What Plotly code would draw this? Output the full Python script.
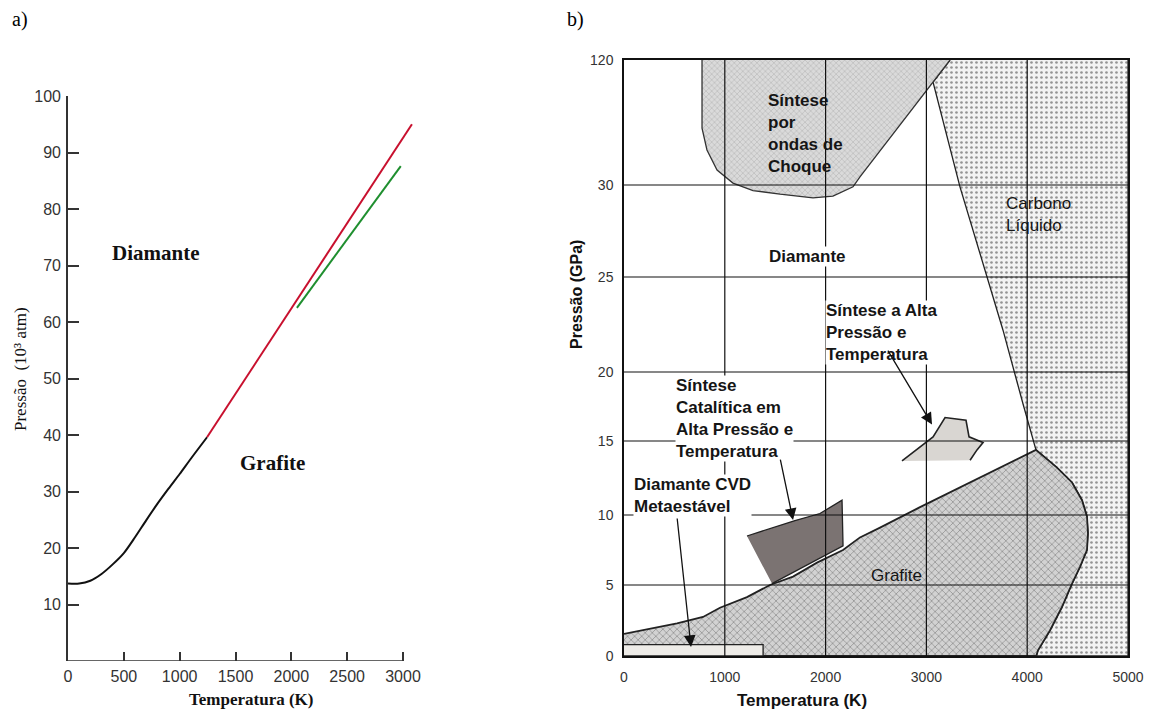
import numpy as np
import plotly.graph_objects as go

# the page is 1154x720 and the browser body keeps an 8 px margin around the figure
W, H = 1154, 720
OFF = 8
FW, FH = W - 2 * OFF, H - 2 * OFF

# ---------------- Panel a data (T in K, P in 10^3 atm) ----------------
A_BLACK_T = [0, 100, 200, 300, 400, 500, 600, 700, 800, 900, 1000, 1100, 1245]
A_BLACK_P = [13.7, 13.7, 14.2, 15.4, 17.1, 19.1, 21.9, 24.9, 27.8, 30.5, 33.1, 35.8, 39.6]
A_RED_T = [1245, 3080]
A_RED_P = [39.6, 95.0]
A_GREEN_T = [2050, 2980]
A_GREEN_P = [62.5, 87.6]
A_XTICKS = [0, 500, 1000, 1500, 2000, 2500, 3000]
A_YTICKS = [10, 20, 30, 40, 50, 60, 70, 80, 90, 100]
A_LABELS = ["Diamante", "Grafite"]
A_LABEL_T = [790, 1830]
A_LABEL_P = [72.2, 35.0]

# ---------------- Panel b data (T in K, P in GPa) ----------------
B_XTICKS = [0, 1000, 2000, 3000, 4000, 5000]
B_YTICKS = [0, 5, 10, 15, 20, 25, 30, 120]

SHOCK_T = [774, 774, 823, 923, 1081, 1280, 1548, 1875, 2073, 2272, 2341, 3234]
SHOCK_P = [120, 71.0, 55.2, 40.8, 31.4, 29.7, 29.5, 29.3, 29.4, 29.9, 35.8, 120]

LIQ_T = [3234, 3066, 3333, 3601, 3760, 3958, 4087, 4296, 4445, 4544, 4593, 4603, 4593,
         4524, 4445, 4345, 4226, 4107, 4090, 5000, 5000]
LIQ_P = [120, 104, 29.9, 25.0, 22.2, 17.7, 14.4, 13.2, 12.2, 11.0, 9.9, 8.7, 7.5,
         6.3, 5.1, 3.45, 1.8, 0.4, 0, 0, 120]

GRAF_T = [0, 526, 784, 952, 1220, 1448, 1677, 1915, 2173, 2341, 2540, 2927, 4087,
          4296, 4445, 4544, 4593, 4603, 4593, 4524, 4445, 4345, 4226, 4107, 4090, 0]
GRAF_P = [1.55, 2.3, 2.75, 3.4, 4.15, 5.0, 5.6, 6.6, 7.5, 8.4, 9.1, 10.5, 14.4,
          13.2, 12.2, 11.0, 9.9, 8.7, 7.5, 6.3, 5.1, 3.45, 1.8, 0.4, 0, 0]

CAT_T = [1220, 1696, 1944, 2163, 2173, 1468]
CAT_P = [8.5, 9.6, 10.1, 11.0, 7.8, 5.1]

HPHT_T = [2758, 3066, 3185, 3393, 3423, 3562, 3502, 3433]
HPHT_P = [13.65, 15.3, 16.7, 16.5, 15.3, 14.9, 14.4, 13.7]

CVD_T = [0, 1380, 1380, 0]
CVD_P = [0, 0, 0.8, 0.8]

B_LABELS = ["Síntese<br>por<br>ondas de<br>Choque", "Diamante", "Carbono<br>Líquido",
            "Síntese a Alta<br>Pressão e<br>Temperatura",
            "Síntese<br>Catalítica em<br>Alta Pressão e<br>Temperatura",
            "Diamante CVD<br>Metaestável", "Grafite"]
B_LABEL_T = [1419, 1429, 3780, 1994, 506, 89, 2440]
B_LABEL_P = [67.0, 26.1, 28.4, 22.1, 16.6, 11.35, 5.7]

ARROW_TAIL_T = [2609, 1548, 526]
ARROW_TAIL_P = [21.2, 13.85, 9.86]
ARROW_TIP_T = [3056, 1677, 665]
ARROW_TIP_P = [16.2, 9.64, 0.63]

# ---------------- layout helpers ----------------
# hand-drawn (non-uniform, broken) pressure axis of panel b: display position of each tick
B_YTICK_POS = [0, 71, 141, 215, 284, 379, 471, 596]


def pmap(p):
    return np.interp(p, B_YTICKS, B_YTICK_POS)


def px(x):
    return (x - OFF) / FW


def py(y):
    return 1 - (y - OFF) / FH


SERIF = "Liberation Serif, Times New Roman, serif"
SANS = "Liberation Sans, Arial, sans-serif"

fig = go.Figure()

# ---------------- Panel a traces ----------------
fig.add_trace(go.Scatter(x=A_BLACK_T, y=A_BLACK_P, mode="lines",
                         line=dict(color="#111111", width=2, shape="spline", smoothing=0.8),
                         xaxis="x", yaxis="y", showlegend=False))
fig.add_trace(go.Scatter(x=A_RED_T, y=A_RED_P, mode="lines", line=dict(color="#c8102e", width=2),
                         xaxis="x", yaxis="y", showlegend=False))
fig.add_trace(go.Scatter(x=A_GREEN_T, y=A_GREEN_P, mode="lines", line=dict(color="#1f8f2f", width=2),
                         xaxis="x", yaxis="y", showlegend=False))


# ---------------- Panel b traces ----------------
def region(t, p, pattern, line_color="#222222", line_width=1.4, fillcolor=None):
    kw = dict(x=t, y=pmap(p), mode="lines", fill="toself",
              line=dict(color=line_color, width=line_width),
              xaxis="x2", yaxis="y2", showlegend=False, hoverinfo="skip")
    if pattern is not None:
        kw["fillpattern"] = pattern
        kw["fillcolor"] = pattern.get("bgcolor")
    else:
        kw["fillcolor"] = fillcolor
    fig.add_trace(go.Scatter(**kw))


region(LIQ_T, LIQ_P, dict(shape=".", fgcolor="#333333", bgcolor="#f3f3f3", size=5, solidity=0.22),
       line_width=1.3)
region(GRAF_T, GRAF_P, dict(shape="x", fgcolor="#5a5a5a", bgcolor="#d2d2d2", size=5, solidity=0.3),
       line_width=1.8)
region(SHOCK_T, SHOCK_P, dict(shape="x", fgcolor="#8a8a8a", bgcolor="#dadada", size=4, solidity=0.25),
       line_color="#333333", line_width=1.3)
region(CAT_T, CAT_P, None, line_color="#222222", line_width=1.3, fillcolor="#7b7372")
region(HPHT_T, HPHT_P, None, line_color="#222222", line_width=1.6, fillcolor="#d9d6d2")
region(CVD_T, CVD_P, None, line_color="#222222", line_width=1.3, fillcolor="#eeece8")

shapes = []
# panel a x-axis line (ends at 3000)
shapes.append(dict(type="line", xref="x", yref="y", x0=A_XTICKS[0], x1=A_XTICKS[-1], y0=0, y1=0,
                   line=dict(color="#333333", width=1.6), layer="above"))
# panel b grid (drawn over the regions, as in the original)
for t in B_XTICKS[1:-1]:
    shapes.append(dict(type="line", xref="x2", yref="y2", x0=t, x1=t, y0=0, y1=pmap(B_YTICKS[-1]),
                       line=dict(color="#111111", width=1.2), layer="above"))
for p in B_YTICKS[1:-1]:
    shapes.append(dict(type="line", xref="x2", yref="y2", x0=B_XTICKS[0], x1=B_XTICKS[-1],
                       y0=pmap(p), y1=pmap(p), line=dict(color="#111111", width=1.2), layer="above"))


def paper_text(text, x, y, font, angle=0):
    return dict(text=text, xref="paper", yref="paper", x=px(x), y=py(y), xanchor="center",
                yanchor="middle", textangle=angle, showarrow=False, font=font)


annotations = []
# panel labels
annotations.append(paper_text("a)", 20, 19, dict(family=SERIF, size=20, color="#000")))
annotations.append(paper_text("b)", 575, 19, dict(family=SERIF, size=20, color="#000")))
# panel a region labels
for s, t, p in zip(A_LABELS, A_LABEL_T, A_LABEL_P):
    annotations.append(dict(text=f"<b>{s}</b>", xref="x", yref="y", x=t, y=p, showarrow=False,
                            xanchor="center", yanchor="middle",
                            font=dict(family=SERIF, size=21, color="#111")))
# axis titles
annotations.append(paper_text("Pressão  (10³ atm)", 20, 369, dict(family=SERIF, size=17, color="#111"), -90))
annotations.append(paper_text("<b>Temperatura (K)</b>", 251, 699, dict(family=SERIF, size=17, color="#111")))
annotations.append(paper_text("<b>Pressão (GPa)</b>", 576, 295, dict(family=SANS, size=16, color="#111"), -90))
annotations.append(paper_text("<b>Temperatura (K)</b>", 802, 700, dict(family=SANS, size=17, color="#111")))

# panel b region labels
label_style = [
    dict(bold=True, bg=None),     # shock
    dict(bold=True, bg="white"),  # diamante
    dict(bold=False, bg=None),    # liquid
    dict(bold=True, bg="white"),  # HPHT
    dict(bold=True, bg="white"),  # catalytic
    dict(bold=True, bg="white"),  # CVD
    dict(bold=False, bg=None),    # grafite
]
for s, t, p, st in zip(B_LABELS, B_LABEL_T, B_LABEL_P, label_style):
    txt = f"<b>{s}</b>" if st["bold"] else s
    a = dict(text=txt, xref="x2", yref="y2", x=t, y=float(pmap(p)), xanchor="left", yanchor="middle",
             align="left", showarrow=False, borderpad=0,
             font=dict(family=SANS, size=17, color="#151515"))
    if st["bg"]:
        a["bgcolor"] = st["bg"]
    annotations.append(a)

for tt, tp, ht, hp in zip(ARROW_TAIL_T, ARROW_TAIL_P, ARROW_TIP_T, ARROW_TIP_P):
    annotations.append(dict(text="", xref="x2", yref="y2", x=ht, y=float(pmap(hp)),
                            axref="x2", ayref="y2", ax=tt, ay=float(pmap(tp)), showarrow=True,
                            arrowhead=2, arrowsize=1.8, arrowwidth=1.3, arrowcolor="#111"))

fig.update_layout(
    width=FW, height=FH, margin=dict(l=0, r=0, t=0, b=0, autoexpand=False),
    paper_bgcolor="white", plot_bgcolor="white",
    showlegend=False,
    xaxis=dict(domain=[px(68), px(68 + 335 * 3100 / 3000)], range=[0, 3100], anchor="y",
               automargin=False,
               showline=False, showgrid=False, zeroline=False,
               tickvals=A_XTICKS, ticks="inside", ticklen=9, tickwidth=1.5, tickcolor="#333",
               tickfont=dict(family=SANS, size=16, color="#333"), ticklabelstandoff=4),
    yaxis=dict(domain=[py(661), py(96)], range=[0, 100], anchor="x",
               automargin=False,
               showline=True, linecolor="#333", linewidth=1.6, showgrid=False, zeroline=False,
               tickvals=A_YTICKS, ticks="inside", ticklen=11, tickwidth=1.5, tickcolor="#333",
               tickfont=dict(family=SANS, size=16, color="#333"), ticklabelstandoff=2),
    xaxis2=dict(domain=[px(624), px(1128)], range=[0, 5000], anchor="y2",
                automargin=False,
                showline=True, mirror=True, linecolor="#111", linewidth=1.5,
                showgrid=False, zeroline=False, tickvals=B_XTICKS, ticks="",
                tickfont=dict(family=SANS, size=14, color="#333"), ticklabelstandoff=7),
    yaxis2=dict(domain=[py(656), py(60)], range=[0, B_YTICK_POS[-1]], anchor="x2",
                automargin=False,
                showline=True, mirror=True, linecolor="#111", linewidth=1.5,
                showgrid=False, zeroline=False, tickvals=B_YTICK_POS,
                ticktext=[str(v) for v in B_YTICKS], ticks="",
                tickfont=dict(family=SANS, size=14, color="#333"), ticklabelstandoff=6),
    shapes=shapes, annotations=annotations,
)

fig.write_html("out.html")
